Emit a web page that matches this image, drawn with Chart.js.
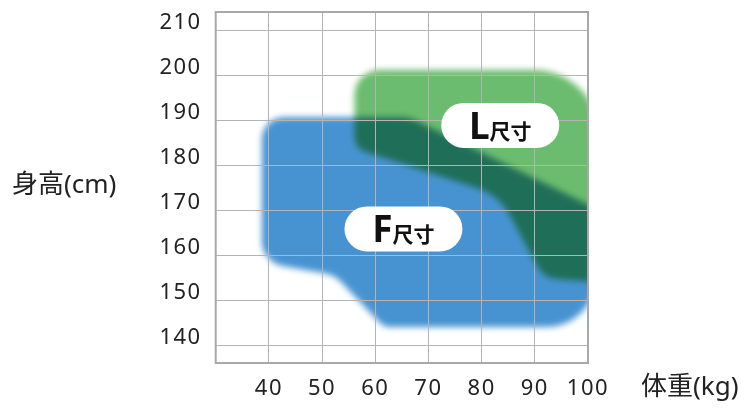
<!DOCTYPE html>
<html><head><meta charset="utf-8">
<script src="https://cdn.jsdelivr.net/npm/chart.js@4"></script>
<style>html,body{margin:0;padding:0;background:#fff}#wrap{width:755px;height:408px;position:relative}</style>
</head><body><div id="wrap"><canvas id="c" width="755" height="408"></canvas></div>
<script>
// ---- data ----
const xTicks = [30, 40, 50, 60, 70, 80, 90, 100];
const xTickLabels = ['', '40', '50', '60', '70', '80', '90', '100'];
const yTicks = [140, 150, 160, 170, 180, 190, 200, 210];
const yTickLabels = ['140', '150', '160', '170', '180', '190', '200', '210'];
// size F outline (weight kg, height cm)
const fWeight = [38.7, 66.4, 102.1, 101.1, 61.6, 52.4, 38.7];
const fHeight = [190.8, 190.8, 170.2, 144.2, 144.2, 155.7, 158.6];
// size L outline
const lWeight = [56.1, 102.1, 102.1, 91.7, 83.3, 56.1];
const lHeight = [201.3, 201.3, 154.2, 155.0, 173.5, 183.9];
const sizeLetters = ['F', 'L'];
const sizeSuffix = '尺寸';
const labelWeight = [65.3, 83.5];
const labelHeight = [166.0, 189.0];
const xTitle = '体重(kg)';
const yTitle = '身高(cm)';

const FONT = '"Noto Sans", "Noto Sans CJK JP", sans-serif';
const pts = (xs, ys) => xs.map((x, i) => ({x, y: ys[i]}));

function roundedPath(g, p, radii) {
  const n = p.length;
  g.beginPath();
  g.moveTo((p[n-1].x + p[0].x) / 2, (p[n-1].y + p[0].y) / 2);
  for (let i = 0; i < n; i++) {
    const v = p[i], nx = p[(i + 1) % n];
    g.arcTo(v.x, v.y, nx.x, nx.y, radii[i]);
  }
  g.closePath();
}

const blobPlugin = {
  id: 'blobs',
  beforeDraw(chart) {
    const {ctx, chartArea: a, scales: {x, y}} = chart;
    const W = chart.canvas.width, H = chart.canvas.height;
    const t = ctx.getTransform();
    const ds = chart.data.datasets;
    const masks = ds.map(d => {
      const c = document.createElement('canvas'); c.width = W; c.height = H;
      const g = c.getContext('2d'); g.setTransform(t);
      g.filter = 'blur(3px)'; g.fillStyle = '#000';
      const p = d.data.map(q => ({x: x.getPixelForValue(q.x), y: y.getPixelForValue(q.y)}));
      roundedPath(g, p, d.cornerRadii); g.fill();
      return g.getImageData(0, 0, W, H).data;
    });
    const hex = h => [1,3,5].map(i => parseInt(h.substr(i,2),16));
    const cF = hex(ds[0].backgroundColor), cL = hex(ds[1].backgroundColor), cD = hex(ds[1].overlapColor);
    const out = new ImageData(W, H); const o = out.data;
    const A = masks[0], B = masks[1];
    for (let i = 0; i < o.length; i += 4) {
      const a1 = A[i+3] / 255, b1 = B[i+3] / 255;
      const wF = a1 * (1 - b1), wL = b1 * (1 - a1), wD = a1 * b1;
      const al = wF + wL + wD;
      if (al <= 0) continue;
      for (let k = 0; k < 3; k++) o[i+k] = (wF*cF[k] + wL*cL[k] + wD*cD[k]) / al;
      o[i+3] = al * 255;
    }
    const tc = document.createElement('canvas'); tc.width = W; tc.height = H;
    tc.getContext('2d').putImageData(out, 0, 0);
    ctx.save();
    ctx.beginPath(); ctx.rect(a.left, a.top, a.right - a.left, a.bottom - a.top); ctx.clip();
    ctx.setTransform(1, 0, 0, 1, 0, 0);
    ctx.drawImage(tc, 0, 0);
    ctx.restore();
    ctx.letterSpacing = '1.5px';
  },
  afterDraw(chart) {
    const {ctx, chartArea: a, scales: {x, y}} = chart;
    ctx.letterSpacing = '0px';
    ctx.save();
    // frame
    ctx.strokeStyle = '#a8a8a8'; ctx.lineWidth = 2;
    ctx.strokeRect(a.left, a.top, a.right - a.left, a.bottom - a.top);
    // axis titles
    ctx.fillStyle = '#222';
    ctx.font = '26px ' + FONT; ctx.textBaseline = 'middle'; ctx.textAlign = 'left';
    ctx.fillText(yTitle, 12, 186);
    ctx.fillText(xTitle, 641, 388);
    // pills
    sizeLetters.forEach((s, i) => {
      const cx = x.getPixelForValue(labelWeight[i]), cy = y.getPixelForValue(labelHeight[i]);
      const w = 118, h = 45;
      ctx.fillStyle = '#fff';
      ctx.beginPath(); ctx.roundRect(cx - w/2, cy - h/2, w, h, h/2); ctx.fill();
      ctx.fillStyle = '#111'; ctx.textBaseline = 'alphabetic'; ctx.textAlign = 'left';
      const f1 = 'bold 37px ' + FONT, f2 = 'bold 21px ' + FONT;
      ctx.font = f1; const w1 = ctx.measureText(s).width;
      ctx.font = f2; const w2 = ctx.measureText(sizeSuffix).width;
      const x0 = cx - (w1 + w2) / 2, base = cy + 13.5;
      ctx.font = f1; ctx.fillText(s, x0, base);
      ctx.font = f2; ctx.fillText(sizeSuffix, x0 + w1, base);
    });
    ctx.restore();
  }
};

new Chart(document.getElementById('c'), {
  type: 'scatter',
  data: {
    datasets: [
      {label: 'F', data: pts(fWeight, fHeight), backgroundColor: '#4793d1',
       cornerRadii: [22, 40, 20, 50, 15, 30, 25], pointRadius: 0, showLine: false},
      {label: 'L', data: pts(lWeight, lHeight), backgroundColor: '#6bbc6e', overlapColor: '#1f6e58',
       cornerRadii: [25, 65, 5, 25, 60, 15], pointRadius: 0, showLine: false}
    ]
  },
  options: {
    responsive: false, animation: false,
    layout: {padding: {left: 0, top: 12, right: 167, bottom: 0}},
    plugins: {legend: {display: false}, tooltip: {enabled: false}},
    scales: {
      x: {
        type: 'linear', min: 30, max: 100,
        afterBuildTicks: s => { s.ticks = xTicks.map(v => ({value: v})); },
        afterFit: s => { s.height = 45; s.paddingLeft = 0; s.paddingRight = 0; },
        grid: {color: '#b4b4b4', lineWidth: 1, drawTicks: false},
        border: {display: false},
        ticks: {color: '#222', font: {family: FONT, size: 22}, padding: 13, maxRotation: 0, autoSkip: false,
                callback: v => xTickLabels[xTicks.indexOf(v)]}
      },
      y: {
        type: 'linear', min: 136.2, max: 214.2,
        afterBuildTicks: s => { s.ticks = yTicks.map(v => ({value: v})); },
        afterFit: s => { s.width = 215.7; s.paddingTop = 0; s.paddingBottom = 0; },
        grid: {color: '#b4b4b4', lineWidth: 1, drawTicks: false},
        border: {display: false},
        ticks: {color: '#222', font: {family: FONT, size: 22}, padding: 14, labelOffset: -8, autoSkip: false,
                callback: v => yTickLabels[yTicks.indexOf(v)]}
      }
    }
  },
  plugins: [blobPlugin]
});
</script></body></html>
